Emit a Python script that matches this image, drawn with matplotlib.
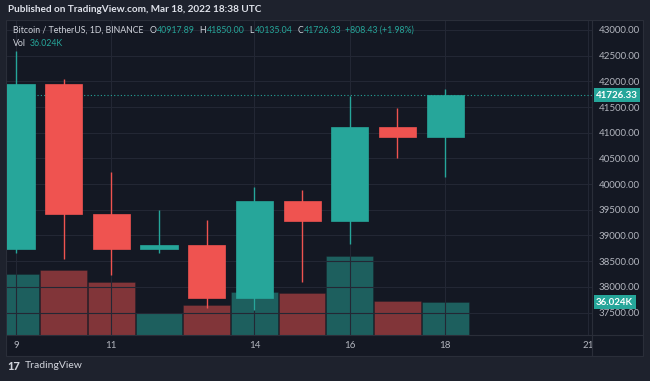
import matplotlib
matplotlib.use('Agg')
import matplotlib.pyplot as plt
from matplotlib.patches import Rectangle
from matplotlib.lines import Line2D
from matplotlib.transforms import blended_transform_factory

plt.rcParams['font.family'] = ['Lato', 'DejaVu Sans']

# daily candles BTC/USDT, Mar 2022
days = [9, 10, 11, 12, 13, 14, 15, 16, 17, 18]
opens = [38730, 41941, 39423, 38730, 38807, 37777, 39671, 39280, 41114, 40917.89]
highs = [42594, 42039, 40236, 39487, 39310, 39947, 39888, 41718, 41479, 41850.00]
lows = [38656, 38539, 38224, 38661, 37579, 37555, 38098, 38828, 40500, 40135.04]
closes = [41941, 39423, 38730, 38807, 37777, 39671, 39280, 41114, 40917.90, 41726.33]
volumes = [66.6, 70.6, 57.9, 24.3, 32.8, 46.9, 45.8, 86.2, 37.1, 36.024]  # thousands

price_ticks = [37500, 38000, 38500, 39000, 39500, 40000, 40500, 41000, 41500, 42000, 42500, 43000]
day_ticks = [9, 11, 14, 16, 18, 21]
last_price = 41726.33

GREEN = '#26a69a'
RED = '#ef5350'
BG = '#141823'
OUTER = '#1e222d'
GRID = '#232734'
TXT = '#b2b5be'

W, H = 650, 381
fig = plt.figure(figsize=(6.5, 3.81), dpi=100, facecolor=OUTER)

def fx(x):
    return x / W

def fy(y):
    return 1 - y / H

# chart panel
fig.patches.append(Rectangle((fx(6), fy(356)), fx(643) - fx(6), fy(20) - fy(356),
                             transform=fig.transFigure, facecolor=BG, edgecolor='#2a2e39',
                             lw=0.8, zorder=-1))

rect = [fx(7), fy(335), fx(592) - fx(7), fy(21) - fy(335)]
ax = fig.add_axes(rect)
axv = ax.twinx()
axv.set_zorder(0)
ax.set_zorder(1)
ax.patch.set_visible(False)
axv.set_facecolor(BG)

# volume
vcols = [GREEN if c >= o else RED for o, c in zip(opens, closes)]
axv.bar(days, volumes, width=0.98, color=vcols, alpha=0.5, edgecolor=BG, linewidth=0.4)
axv.set_ylim(0, 342.8)
axv.set_yticks([])
for s in axv.spines.values():
    s.set_visible(False)

# candles
for d, o, h, l, c in zip(days, opens, highs, lows, closes):
    col = GREEN if c >= o else RED
    ax.vlines(d, l, h, color=col, lw=1.0, zorder=3)
    ax.bar(d, abs(c - o), bottom=min(o, c), width=0.78, color=col, zorder=4,
           edgecolor=col, linewidth=0.5)

ax.axhline(last_price, color=GREEN, ls=(0, (1, 2)), lw=0.8, zorder=2)

ax.set_xlim(8.81, 21.08)
ax.set_ylim(37062, 43175)
ax.set_yticks(price_ticks)
ax.set_yticklabels(['%.2f' % p for p in price_ticks])
ax.set_xticks(day_ticks)
ax.set_xticklabels([str(d) for d in day_ticks])
ax.yaxis.tick_right()
ax.tick_params(axis='y', length=0, pad=5, labelsize=7, labelcolor=TXT)
ax.tick_params(axis='x', length=0, pad=4, labelsize=7, labelcolor=TXT)
ax.grid(True, color=GRID, lw=0.8, zorder=0)
ax.set_axisbelow(True)
for s in ax.spines.values():
    s.set_visible(False)

# separators
fig.lines.append(Line2D([fx(592), fx(592)], [fy(20), fy(356)], transform=fig.transFigure,
                        color='#2a2e39', lw=0.8))
fig.lines.append(Line2D([fx(6), fx(643)], [fy(335), fy(335)], transform=fig.transFigure,
                        color='#2a2e39', lw=0.8))

# last value labels
tr = blended_transform_factory(fig.transFigure, ax.transData)
ax.text(fx(596), last_price, '%.2f' % last_price, transform=tr, fontsize=7, color='white',
        fontweight='bold', va='center', ha='left', clip_on=False, zorder=10,
        bbox=dict(boxstyle='square,pad=0.25', fc=GREEN, ec='none'))
trv = blended_transform_factory(fig.transFigure, axv.transData)
axv.text(fx(596), volumes[-1], '36.024K', transform=trv, fontsize=7, color='white',
         fontweight='bold', va='center', ha='left', clip_on=False, zorder=10,
         bbox=dict(boxstyle='square,pad=0.25', fc=GREEN, ec='none'))

# header texts
fig.text(fx(8), fy(10), 'Published on TradingView.com, Mar 18, 2022 18:38 UTC',
         fontsize=7.2, color='#e0e3eb', va='center', ha='left', fontweight='bold')

renderer = fig.canvas.get_renderer()
fs = 6.3
yl = fy(30.5)
pieces = [('Bitcoin / TetherUS, 1D, BINANCE', '#d1d4dc', 6), ('O', '#d1d4dc', 0.5),
          ('40917.89', GREEN, 5), ('H', '#d1d4dc', 0.5), ('41850.00', GREEN, 5),
          ('L', '#d1d4dc', 0.5), ('40135.04', GREEN, 5), ('C', '#d1d4dc', 0.5),
          ('41726.33', GREEN, 4), ('+808.43 (+1.98%)', GREEN, 0)]
x = 13
for s, c, gap in pieces:
    t = fig.text(fx(x), yl, s, fontsize=fs, color=c, va='center')
    x += t.get_window_extent(renderer).width + gap
fig.text(fx(13), fy(43), 'Vol', fontsize=fs, color='#d1d4dc', va='center')
fig.text(fx(30), fy(43), '36.024K', fontsize=fs, color=GREEN, va='center')

# footer logo
fig.text(fx(7), fy(366), '17', fontsize=8, color='#d1d4dc', va='center', fontweight='black')
fig.text(fx(25), fy(366), 'TradingView', fontsize=7.5, color='#d1d4dc', va='center')

fig.savefig('out.png', dpi=100, facecolor=OUTER)
